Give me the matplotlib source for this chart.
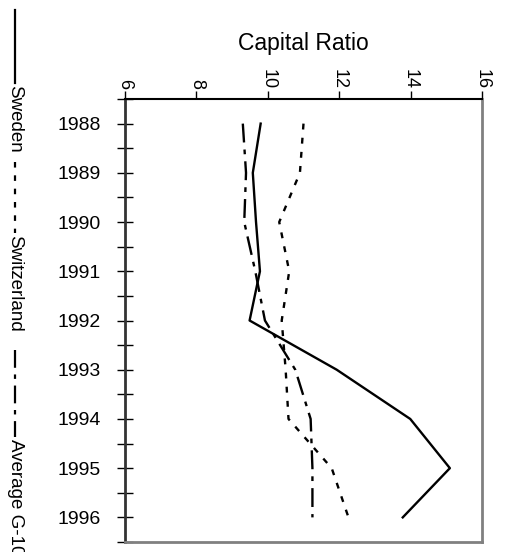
import matplotlib.pyplot as plt
from matplotlib.lines import Line2D

plt.rcParams['font.family'] = ['Liberation Sans', 'DejaVu Sans']

# Dados
anos = [1988, 1989, 1990, 1991, 1992, 1993, 1994, 1995, 1996]
suecia = [9.8, 9.58, 9.67, 9.78, 9.49, 11.93, 13.99, 15.1, 13.78]
suica = [11.0, 10.9, 10.32, 10.6, 10.39, 10.5, 10.58, 11.79, 12.26]
media_g10 = [9.3, 9.39, 9.34, 9.65, 9.92, 10.77, 11.2, 11.25, 11.25]
nomes = ['Sweden', 'Switzerland', 'Average G-10']
ticks_x = [6, 8, 10, 12, 14, 16]

estilos = ['-', (0, (2.5, 3.5)), (0, (8, 3, 2, 3))]

fig = plt.figure(figsize=(5.07, 5.52), dpi=100)
ax = fig.add_axes([125 / 507, 1 - 542 / 552, 357 / 507, 443 / 552])

for serie, ls in zip([suecia, suica, media_g10], estilos):
    ax.plot(serie, anos, color='black', lw=1.7, ls=ls)

ax.set_xlim(6, 16)
ax.set_ylim(1996.5, 1987.5)
ax.set_xticks(ticks_x)
ax.set_xticklabels([str(t) for t in ticks_x], rotation=-90, fontsize=13)
ax.xaxis.tick_top()
ax.xaxis.set_label_position('top')
ax.set_xlabel('Capital Ratio', fontsize=16.5, labelpad=14)
ax.tick_params(axis='x', direction='out', length=6, width=1, pad=1)

ax.set_yticks(anos)
ax.set_yticklabels([str(a) for a in anos], fontsize=14)
ax.set_yticks([a + 0.5 for a in [1987] + anos], minor=True)
ax.tick_params(axis='y', which='both', direction='inout', length=11, width=1, pad=12)

ax.spines['top'].set_color('black')
ax.spines['top'].set_linewidth(1.5)
ax.spines['left'].set_color('#333333')
ax.spines['left'].set_linewidth(2)
for lado in ['right', 'bottom']:
    ax.spines[lado].set_color('#808080')
    ax.spines[lado].set_linewidth(2)

# Legenda vertical à esquerda
xl = 15 / 507
trechos = [(10, 83), (162, 233), (350, 437)]
textos_y = [85, 235, 439]
for (y0, y1), ty, ls, nome in zip(trechos, textos_y, estilos, nomes):
    fig.add_artist(Line2D([xl, xl], [1 - y0 / 552, 1 - y1 / 552], color='black',
                          lw=1.6, ls=ls, transform=fig.transFigure))
    fig.text(xl, 1 - ty / 552, nome, rotation=-90, fontsize=13.5,
             ha='center', va='top')

fig.savefig('out.png', dpi=100)
